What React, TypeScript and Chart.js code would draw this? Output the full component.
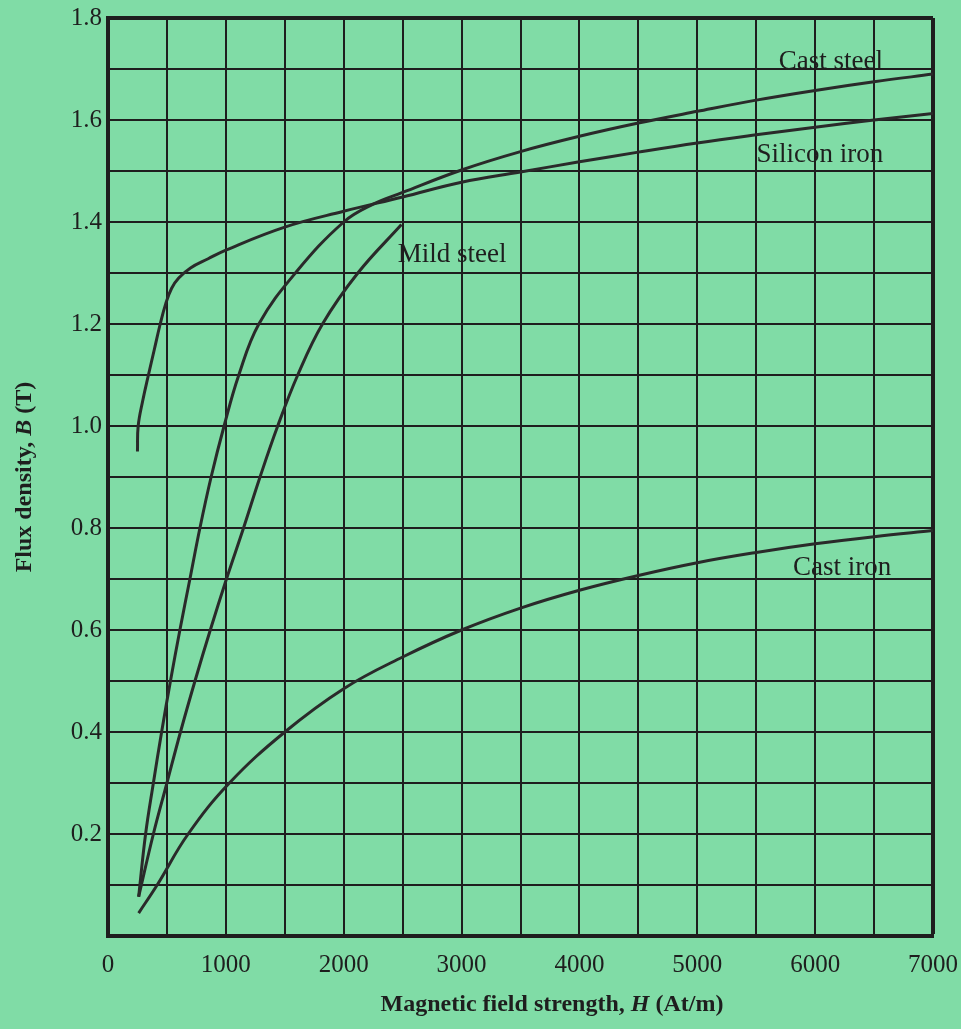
import React, { useEffect, useRef } from "react";
import { Chart, registerables } from "chart.js";

Chart.register(...registerables);

// ---- Data (H in At/m, B in T) ----
const siliconIronH = [250, 256, 295, 343, 393, 443, 490, 540, 600, 700, 850, 1000, 1500, 2000, 2500, 3000, 3500, 4000, 4500, 5000, 5500, 6000, 6500, 7000];
const siliconIronB = [0.95, 1.0, 1.05, 1.1, 1.15, 1.2, 1.24, 1.27, 1.29, 1.31, 1.328, 1.345, 1.39, 1.421, 1.449, 1.478, 1.498, 1.518, 1.537, 1.555, 1.571, 1.586, 1.6, 1.613];

const castSteelH = [260, 319, 385, 455, 530, 610, 695, 780, 875, 985, 1110, 1280, 1590, 2000, 2250, 2500, 3000, 3500, 4000, 4500, 5000, 5500, 6000, 6500, 7000];
const castSteelB = [0.077, 0.2, 0.3, 0.4, 0.5, 0.6, 0.7, 0.8, 0.9, 1.0, 1.1, 1.2, 1.3, 1.4, 1.435, 1.458, 1.502, 1.538, 1.568, 1.594, 1.617, 1.639, 1.658, 1.675, 1.69];

const mildSteelH = [260, 385, 500, 615, 738, 868, 1005, 1150, 1290, 1440, 1610, 1820, 2120, 2490];
const mildSteelB = [0.077, 0.2, 0.3, 0.4, 0.5, 0.6, 0.7, 0.8, 0.9, 1.0, 1.1, 1.2, 1.3, 1.395];

const castIronH = [260, 417, 680, 1030, 1500, 2000, 2500, 3000, 3500, 4000, 4500, 5000, 5500, 6000, 6500, 7000];
const castIronB = [0.045, 0.1, 0.2, 0.3, 0.4, 0.485, 0.547, 0.6, 0.643, 0.678, 0.707, 0.732, 0.752, 0.769, 0.783, 0.795];

const seriesNames = ["Cast steel", "Silicon iron", "Mild steel", "Cast iron"];
// label anchor points in data units (H, B)
const labelH = [6134, 6041, 2919, 6228];
const labelB = [1.714, 1.531, 1.335, 0.722];

const xMin = 0, xMax = 7000, xStep = 500;
const yMin = 0, yMax = 1.8, yStep = 0.1;

const xTitleParts = [
  { t: "Magnetic field strength, ", italic: false },
  { t: "H", italic: true },
  { t: " (At/m)", italic: false },
];
const yTitleParts = [
  { t: "Flux density, ", italic: false },
  { t: "B", italic: true },
  { t: " (T)", italic: false },
];

const BG = "#80dca6";
const INK = "#1e1e1e";
const CURVE = "#2a2a2a";
const SERIF = "'Liberation Serif', 'Times New Roman', serif";

function pts(h: number[], b: number[]) {
  return h.map((x, i) => ({ x, y: b[i] }));
}

function drawParts(ctx: CanvasRenderingContext2D, parts: { t: string; italic: boolean }[], size: number) {
  const fonts = parts.map((p) => `${p.italic ? "italic " : ""}bold ${size}px ${SERIF}`);
  let total = 0;
  const widths = parts.map((p, i) => {
    ctx.font = fonts[i];
    const w = ctx.measureText(p.t).width;
    total += w;
    return w;
  });
  let x = -total / 2;
  parts.forEach((p, i) => {
    ctx.font = fonts[i];
    ctx.fillText(p.t, x, 0);
    x += widths[i];
  });
}

const annotPlugin = {
  id: "annot",
  afterDraw(chart: any) {
    const ctx = chart.ctx as CanvasRenderingContext2D;
    const xs = chart.scales.x;
    const ys = chart.scales.y;
    ctx.save();
    ctx.fillStyle = INK;
    ctx.textBaseline = "middle";
    ctx.font = `27px ${SERIF}`;
    ctx.textAlign = "center";
    seriesNames.forEach((n, i) => {
      ctx.fillText(n, xs.getPixelForValue(labelH[i]), ys.getPixelForValue(labelB[i]));
    });
    ctx.textAlign = "left";
    ctx.save();
    ctx.translate(552, 1005);
    drawParts(ctx, xTitleParts, 24);
    ctx.restore();
    ctx.save();
    ctx.translate(25, (chart.chartArea.top + chart.chartArea.bottom) / 2);
    ctx.rotate(-Math.PI / 2);
    drawParts(ctx, yTitleParts, 24);
    ctx.restore();
    ctx.restore();
  },
};

export default function App() {
  const ref = useRef<HTMLCanvasElement | null>(null);
  useEffect(() => {
    document.body.style.margin = "0";
    document.body.style.background = BG;
    const canvas = ref.current!;
    const mk = (label: string, h: number[], b: number[]) => ({
      label,
      data: pts(h, b),
      borderColor: CURVE,
      borderWidth: 3,
      pointRadius: 0,
      fill: false,
      tension: 0.4,
    });
    const chart = new Chart(canvas, {
      type: "line",
      data: {
        datasets: [
          mk(seriesNames[0], castSteelH, castSteelB),
          mk(seriesNames[1], siliconIronH, siliconIronB),
          mk(seriesNames[2], mildSteelH, mildSteelB),
          mk(seriesNames[3], castIronH, castIronB),
        ],
      },
      options: {
        responsive: false,
        animation: false,
        layout: { padding: { left: 0, top: 18, right: 28, bottom: 0 } },
        plugins: { legend: { display: false }, tooltip: { enabled: false } },
        scales: {
          x: {
            type: "linear",
            min: xMin,
            max: xMax,
            afterFit: (s: any) => {
              s.height = 93;
              s.paddingRight = 0;
              s.paddingLeft = 0;
            },
            ticks: {
              stepSize: xStep,
              padding: 14,
              color: INK,
              font: { family: SERIF, size: 25 },
              maxRotation: 0,
              autoSkip: false,
              callback: (v: any) => (Number(v) % 1000 === 0 ? String(v) : ""),
            },
            grid: {
              color: INK,
              drawTicks: false,
              lineWidth: (c: any) => (c.tick && c.tick.value === xMax ? 4 : 2),
            },
            border: { display: true, color: INK, width: 4 },
          },
          y: {
            type: "linear",
            min: yMin,
            max: yMax,
            afterFit: (s: any) => {
              s.width = 108;
              s.paddingTop = 0;
              s.paddingBottom = 0;
            },
            ticks: {
              stepSize: yStep,
              padding: 6,
              color: INK,
              font: { family: SERIF, size: 25 },
              autoSkip: false,
              callback: (v: any) => {
                const k = Math.round(Number(v) * 10);
                return k > 0 && k % 2 === 0 ? (k / 10).toFixed(1) : "";
              },
            },
            grid: {
              color: INK,
              drawTicks: false,
              lineWidth: (c: any) => (c.tick && Math.abs(c.tick.value - yMax) < 1e-6 ? 4 : 2),
            },
            border: { display: true, color: INK, width: 4 },
          },
        },
      },
      plugins: [annotPlugin],
    });
    return () => chart.destroy();
  }, []);
  return (
    <div style={{ position: "fixed", left: 0, top: 0, width: 961, height: 1029, background: BG }}>
      <canvas ref={ref} width={961} height={1029} />
    </div>
  );
}
